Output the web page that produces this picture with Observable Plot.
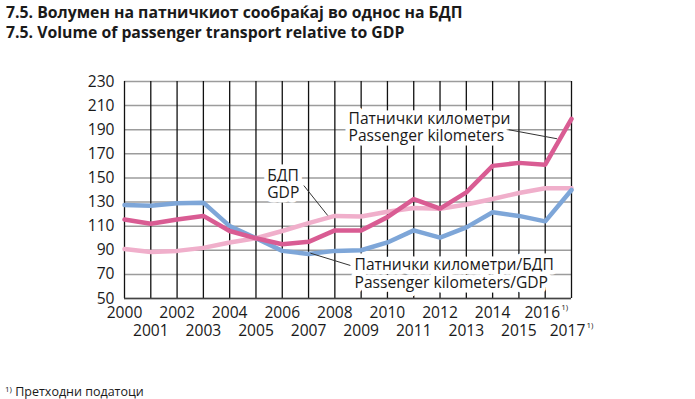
<!DOCTYPE html>
<html>
<head>
<meta charset="utf-8">
<script src="https://cdn.jsdelivr.net/npm/d3@7"></script>
<script src="https://cdn.jsdelivr.net/npm/@observablehq/plot@0.6"></script>
<style>
  body { margin: 0; background: #fff; }
  #wrap { position: relative; width: 695px; height: 399px; overflow: hidden; font-family: "Open Sans", sans-serif; }
  #title { position: absolute; left: 6px; top: 2px; font-weight: bold; font-size: 15.8px; line-height: 20px; color: #1a1a1a; white-space: nowrap; }
  #foot { position: absolute; left: 5px; top: 384px; font-size: 12.5px; line-height: 15px; color: #1a1a1a; white-space: nowrap; }
  #foot sup { font-size: 8px; vertical-align: 4px; line-height: 0; }
  #chart { position: absolute; left: 0; top: 0; }
</style>
</head>
<body>
<div id="wrap">
  <div id="chart"></div>
  <div id="title">7.5. Волумен на патничкиот сообраќај во однос на БДП<br>7.5. Volume of passenger transport relative to GDP</div>
  <div id="foot"><sup>1)</sup> Претходни податоци</div>
</div>
<script>
const years = [2000, 2001, 2002, 2003, 2004, 2005, 2006, 2007, 2008, 2009, 2010, 2011, 2012, 2013, 2014, 2015, 2016, 2017];
const evenYears = [2000, 2002, 2004, 2006, 2008, 2010, 2012, 2014];
const oddYears = [2001, 2003, 2005, 2007, 2009, 2011, 2013, 2015];
const provisionalEven = [2016];
const provisionalOdd = [2017];
const yTicks = [50, 70, 90, 110, 130, 150, 170, 190, 210, 230];

const passengerKm = [115.5, 112, 115.5, 118.5, 106, 100, 95, 97, 106.5, 106.5, 117.5, 132.5, 124.5, 138, 160, 162.5, 161, 199];
const gdp = [91, 88.5, 89.5, 92, 96.5, 100, 106, 112.5, 118.5, 118, 122, 125, 124.5, 128, 132.5, 137.5, 141.5, 141.5];
const ratio = [127.5, 127, 129, 129.5, 110, 100, 89.5, 87, 89.5, 90, 96.5, 106.5, 100.5, 109, 121.5, 118.5, 114, 140];

const cBlue = "#7ea6d8";
const cDark = "#d95c93";
const cLight = "#f0afcb";
const ink = "#1a1a1a";
const fs = 15.6;

const halo = {stroke: "white", strokeWidth: 9, paintOrder: "stroke", strokeLinejoin: "round", fill: ink, fontSize: fs, textAnchor: "start"};
const lab = {y: 50, fontSize: fs, fill: ink};
const sup = {y: 50, text: () => "1)", textAnchor: "start", fontSize: 8, fill: ink};

const chart = Plot.plot({
  width: 695,
  height: 399,
  marginTop: 81,
  marginBottom: 101,
  marginLeft: 124,
  marginRight: 124,
  x: {domain: [2000, 2017], axis: null},
  y: {domain: [50, 230], axis: null},
  style: {fontFamily: "Open Sans, sans-serif", fontSize: fs + "px", background: "transparent", color: ink},
  marks: [
    Plot.ruleY(yTicks, {y: d => d, stroke: "#9c9c9c", strokeWidth: 1.5}),
    Plot.ruleX(years, {x: d => d, stroke: "#111", strokeWidth: 1.3}),
    Plot.ruleY([50], {y: d => d, stroke: "#444", strokeWidth: 1.3}),
    Plot.line(years, {x: years, y: gdp, stroke: cLight, strokeWidth: 4.5}),
    Plot.line(years, {x: years, y: ratio, stroke: cBlue, strokeWidth: 4.5}),
    Plot.line(years, {x: years, y: passengerKm, stroke: cDark, strokeWidth: 4.5}),
    // leader lines
    Plot.link([0], {x1: 2014.61, y1: 190, x2: 2016.45, y2: 182.5, stroke: "#333", strokeWidth: 1}),
    Plot.link([0], {x1: 2006.82, y1: 143.7, x2: 2007.73, y2: 118.8, stroke: "#333", strokeWidth: 1}),
    Plot.link([0], {x1: 2007.07, y1: 87.6, x2: 2008.59, y2: 77.4, stroke: "#333", strokeWidth: 1}),
    // annotations
    Plot.text(["Патнички километри", "Passenger kilometers"], {x: 2008.52, y: [199.1, 184.6], text: d => d, ...halo}),
    Plot.text(["БДП", "GDP"], {x: 2005.43, y: [152, 137.7], text: d => d, ...halo}),
    Plot.text(["Патнички километри/БДП", "Passenger kilometers/GDP"], {x: 2008.75, y: [77.4, 63], text: d => d, ...halo}),
    // y axis labels
    Plot.axisY(yTicks, {anchor: "left", tickSize: 0, tickPadding: 10, fontSize: fs, tickFormat: d => String(d)}),
    // x axis labels (two rows)
    Plot.text(evenYears, {x: d => d, text: d => String(d), dy: 14, ...lab}),
    Plot.text(oddYears, {x: d => d, text: d => String(d), dy: 32, ...lab}),
    Plot.text(provisionalEven, {x: d => d, text: d => String(d), dy: 14, dx: -3, ...lab}),
    Plot.text(provisionalOdd, {x: d => d, text: d => String(d), dy: 32, dx: -4, ...lab}),
    Plot.text(provisionalEven, {x: d => d, dx: 16, dy: 9, ...sup}),
    Plot.text(provisionalOdd, {x: d => d, dx: 15, dy: 27, ...sup})
  ]
});
document.getElementById("chart").appendChild(chart);
</script>
</body>
</html>
